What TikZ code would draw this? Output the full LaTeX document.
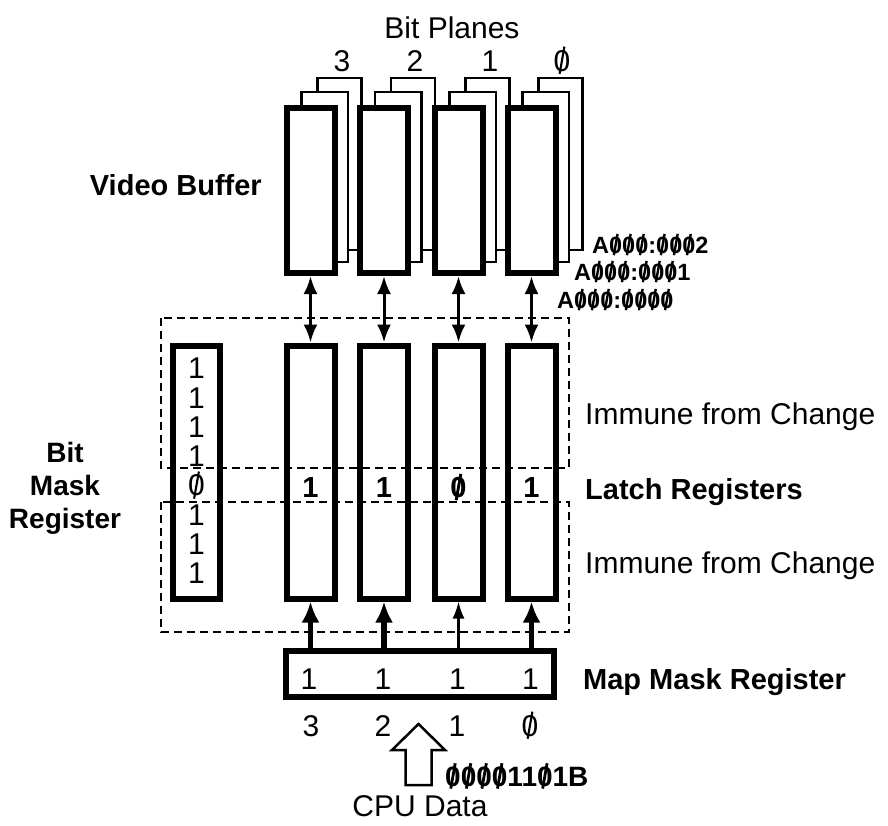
\documentclass[tikz,border=0pt]{standalone}
\usepackage{fontspec}
\setmainfont{Liberation Sans}
\usepackage{graphicx}
\usetikzlibrary{arrows.meta}
\newcommand\zs{\ooalign{0\cr\hidewidth\rotatebox[origin=c]{-10}{\rule[-0.1em]{0.07em}{0.92em}}\hidewidth\cr}}
\newcommand\zsb{\ooalign{0\cr\hidewidth\rotatebox[origin=c]{-10}{\rule[-0.1em]{0.1em}{0.92em}}\hidewidth\cr}}
\begin{document}
\begin{tikzpicture}[x=1pt,y=-1pt,
  txt/.style={inner sep=0,font=\fontsize{30}{34}\selectfont},
  btxt/.style={inner sep=0,font=\fontsize{29}{33}\selectfont\bfseries},
  atxt/.style={inner sep=0,font=\fontsize{23.5}{26}\selectfont\bfseries,anchor=base west},
  front/.style={draw,line width=6pt,fill=white,minimum width=48pt,inner sep=0},
  sheet/.style={draw,line width=2.4pt,fill=white},
  zone/.style={draw,line width=2.2pt,dash pattern=on 8pt off 5pt},
  dbl/.style={line width=3pt,{Latex[length=18pt,width=14pt]}-{Latex[length=18pt,width=14pt]}},
  thk/.style={line width=5.5pt,-{Latex[length=21pt,width=18pt]}},
  thn/.style={line width=2.2pt,-{Latex[length=17pt,width=12pt]}},
]
\useasboundingbox (0,0) rectangle (888,825);
% back sheets of the video buffer
\foreach \c in {310.5,384,458.5,531.5}
  \draw[sheet] (\c+7,78) rectangle (\c+51,250);
\foreach \c in {310.5,384,458.5,531.5}
  \draw[sheet] (\c-9,92) rectangle (\c+37.5,262);
% video buffer front planes
\node[front,minimum height=165pt] (vb3) at (310.5,190.5) {};
\node[front,minimum height=165pt] (vb2) at (384,190.5) {};
\node[front,minimum height=165pt] (vb1) at (458.5,190.5) {};
\node[front,minimum height=165pt] (vb0) at (531.5,190.5) {};
% latches and bit mask
\node[front,minimum height=253pt] (lt3) at (310.5,472) {};
\node[front,minimum height=253pt] (lt2) at (384,472) {};
\node[front,minimum height=253pt] (lt1) at (458.5,472) {};
\node[front,minimum height=253pt] (lt0) at (531.5,472) {};
\node[front,minimum width=47pt,minimum height=253pt] (bm) at (196.5,472) {};
% map mask
\node[front,minimum width=268pt,minimum height=46pt] (mm) at (420,674) {};
% dashed zones
\draw[zone] (161,318) rectangle (569,468);
\draw[zone] (161,502) rectangle (569,632);
% connectors
\draw[dbl] (vb3.south) -- (lt3.north);
\draw[dbl] (vb2.south) -- (lt2.north);
\draw[dbl] (vb1.south) -- (lt1.north);
\draw[dbl] (vb0.south) -- (lt0.north);
\draw[thk] (mm.north -| lt3.south) -- (lt3.south);
\draw[thk] (mm.north -| lt2.south) -- (lt2.south);
\draw[thn] (mm.north -| lt1.south) -- (lt1.south);
\draw[thk] (mm.north -| lt0.south) -- (lt0.south);
% bit mask digits
\foreach \t [count=\i] in {1,1,1,1,\zs,1,1,1}
  \node[txt,anchor=base] (bmd\i) at (196.5,{378.7+29.3*(\i-1)}) {\t};
% latch digits
\node[btxt,anchor=base] (ld3) at (310.5,497.5) {1};
\node[btxt,anchor=base] (ld2) at (384,497.5) {1};
\node[btxt,anchor=base] (ld1) at (458.5,497.5) {\zsb};
\node[btxt,anchor=base] (ld0) at (531.5,497.5) {1};
% map mask digits and plane numbers
\node[txt,anchor=base] (md3) at (309,689) {1};
\node[txt,anchor=base] (md2) at (383,689) {1};
\node[txt,anchor=base] (md1) at (457.5,689) {1};
\node[txt,anchor=base] (md0) at (530.5,689) {1};
\node[txt,anchor=base] (pn3) at (311,736) {3};
\node[txt,anchor=base] (pn2) at (383,736) {2};
\node[txt,anchor=base] (pn1) at (457,736) {1};
\node[txt,anchor=base] (pn0) at (530,736) {\zs};
% top labels
\node[txt,anchor=base] (bp) at (452,38) {Bit Planes};
\node[txt,anchor=base] (tp3) at (342,71) {3};
\node[txt,anchor=base] (tp2) at (415,71) {2};
\node[txt,anchor=base] (tp1) at (490,71) {1};
\node[txt,anchor=base] (tp0) at (562,71) {\zs};
\node[btxt,anchor=base east] (vbl) at (262,195) {Video Buffer};
\node[atxt] (a2) at (592,253) {A\zsb\zsb\zsb:\zsb\zsb\zsb2};
\node[atxt] (a1) at (574,280) {A\zsb\zsb\zsb:\zsb\zsb\zsb1};
\node[atxt] (a0) at (557,308) {A\zsb\zsb\zsb:\zsb\zsb\zsb\zsb};
% left label
\node[btxt,font=\fontsize{28}{33}\selectfont\bfseries,align=center] (bml) at (65,488) {Bit\\Mask\\Register};
% right labels
\node[txt,anchor=base west] (im1) at (585,424) {Immune from Change};
\node[btxt,anchor=base west] (lr) at (585,499) {Latch Registers};
\node[txt,anchor=base west] (im2) at (585,573) {Immune from Change};
\node[btxt,anchor=base west] (mml) at (583,689) {Map Mask Register};
% CPU data
\draw[line width=2.5pt,fill=white,line join=miter] (405.5,785) -- (405.5,750) -- (392,750) -- (418.5,724) -- (445,750) -- (431.5,750) -- (431.5,785) -- cycle;
\node[btxt,font=\fontsize{28}{32}\selectfont\bfseries,anchor=base west] (val) at (445,786) {\zsb\zsb\zsb\zsb11\zsb1B};
\node[txt,anchor=base] (cpu) at (420,816) {CPU Data};
\end{tikzpicture}
\end{document}
